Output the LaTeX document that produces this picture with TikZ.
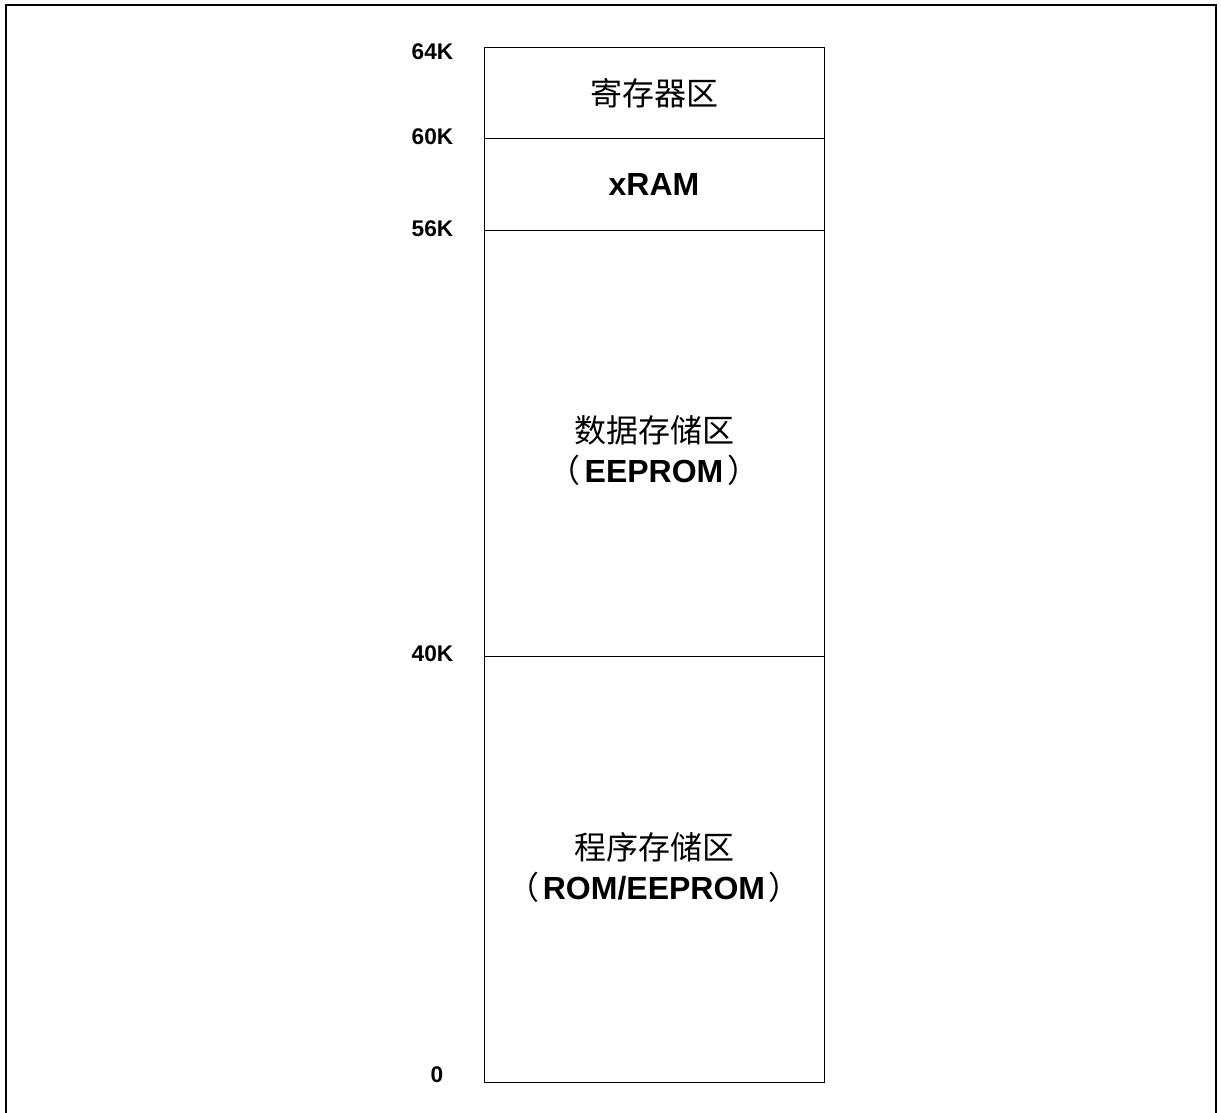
\documentclass[tikz,border=0pt]{standalone}
\usepackage{fontspec}
\setmainfont{Liberation Sans}
\newfontfamily\cjk{Noto Sans CJK SC}

\begin{document}
\begin{tikzpicture}[x=0.75pt,y=-0.75pt,
      addr/.style={font=\fontsize{17}{19}\selectfont\bfseries,anchor=east},
      zone/.style={font=\fontsize{24}{30}\selectfont,align=center}]
   \useasboundingbox (0,0) rectangle (1221,1113);
   % outer frame, open at the bottom
   \draw [line width=1.5pt] (5.5,1120) -- (5.5,5.5) -- (1216,5.5) -- (1216,1120);

   % memory map
   \draw [line width=0.7pt] (484,47) rectangle (824,1082);
   \draw [line width=0.7pt] (484,138) -- (824,138);
   \draw [line width=0.7pt] (484,230) -- (824,230);
   \draw [line width=0.7pt] (484,656) -- (824,656);

   \node (reg)  [zone] at (654,93)  {\cjk 寄存器区};
   \node (xram) [zone] at (654,184) {\bfseries xRAM};
   \node (data) [zone] at (654,451)
      {{\cjk 数据存储区}\\[0pt]\kern-0.3em{\cjk （}\kern0.12em\textbf{EEPROM}\kern0.12em{\cjk ）}\kern-0.3em};
   \node (prog) [zone] at (654,868)
      {{\cjk 程序存储区}\\[0pt]\kern-0.3em{\cjk （}\kern0.12em\textbf{ROM/EEPROM}\kern0.12em{\cjk ）}\kern-0.3em};

   \node (a64) [addr] at (458,52)   {64K};
   \node (a60) [addr] at (458,137)  {60K};
   \node (a56) [addr] at (458,229)  {56K};
   \node (a40) [addr] at (458,654)  {40K};
   \node (a0)  [addr] at (448,1075) {0};
\end{tikzpicture}
\end{document}
